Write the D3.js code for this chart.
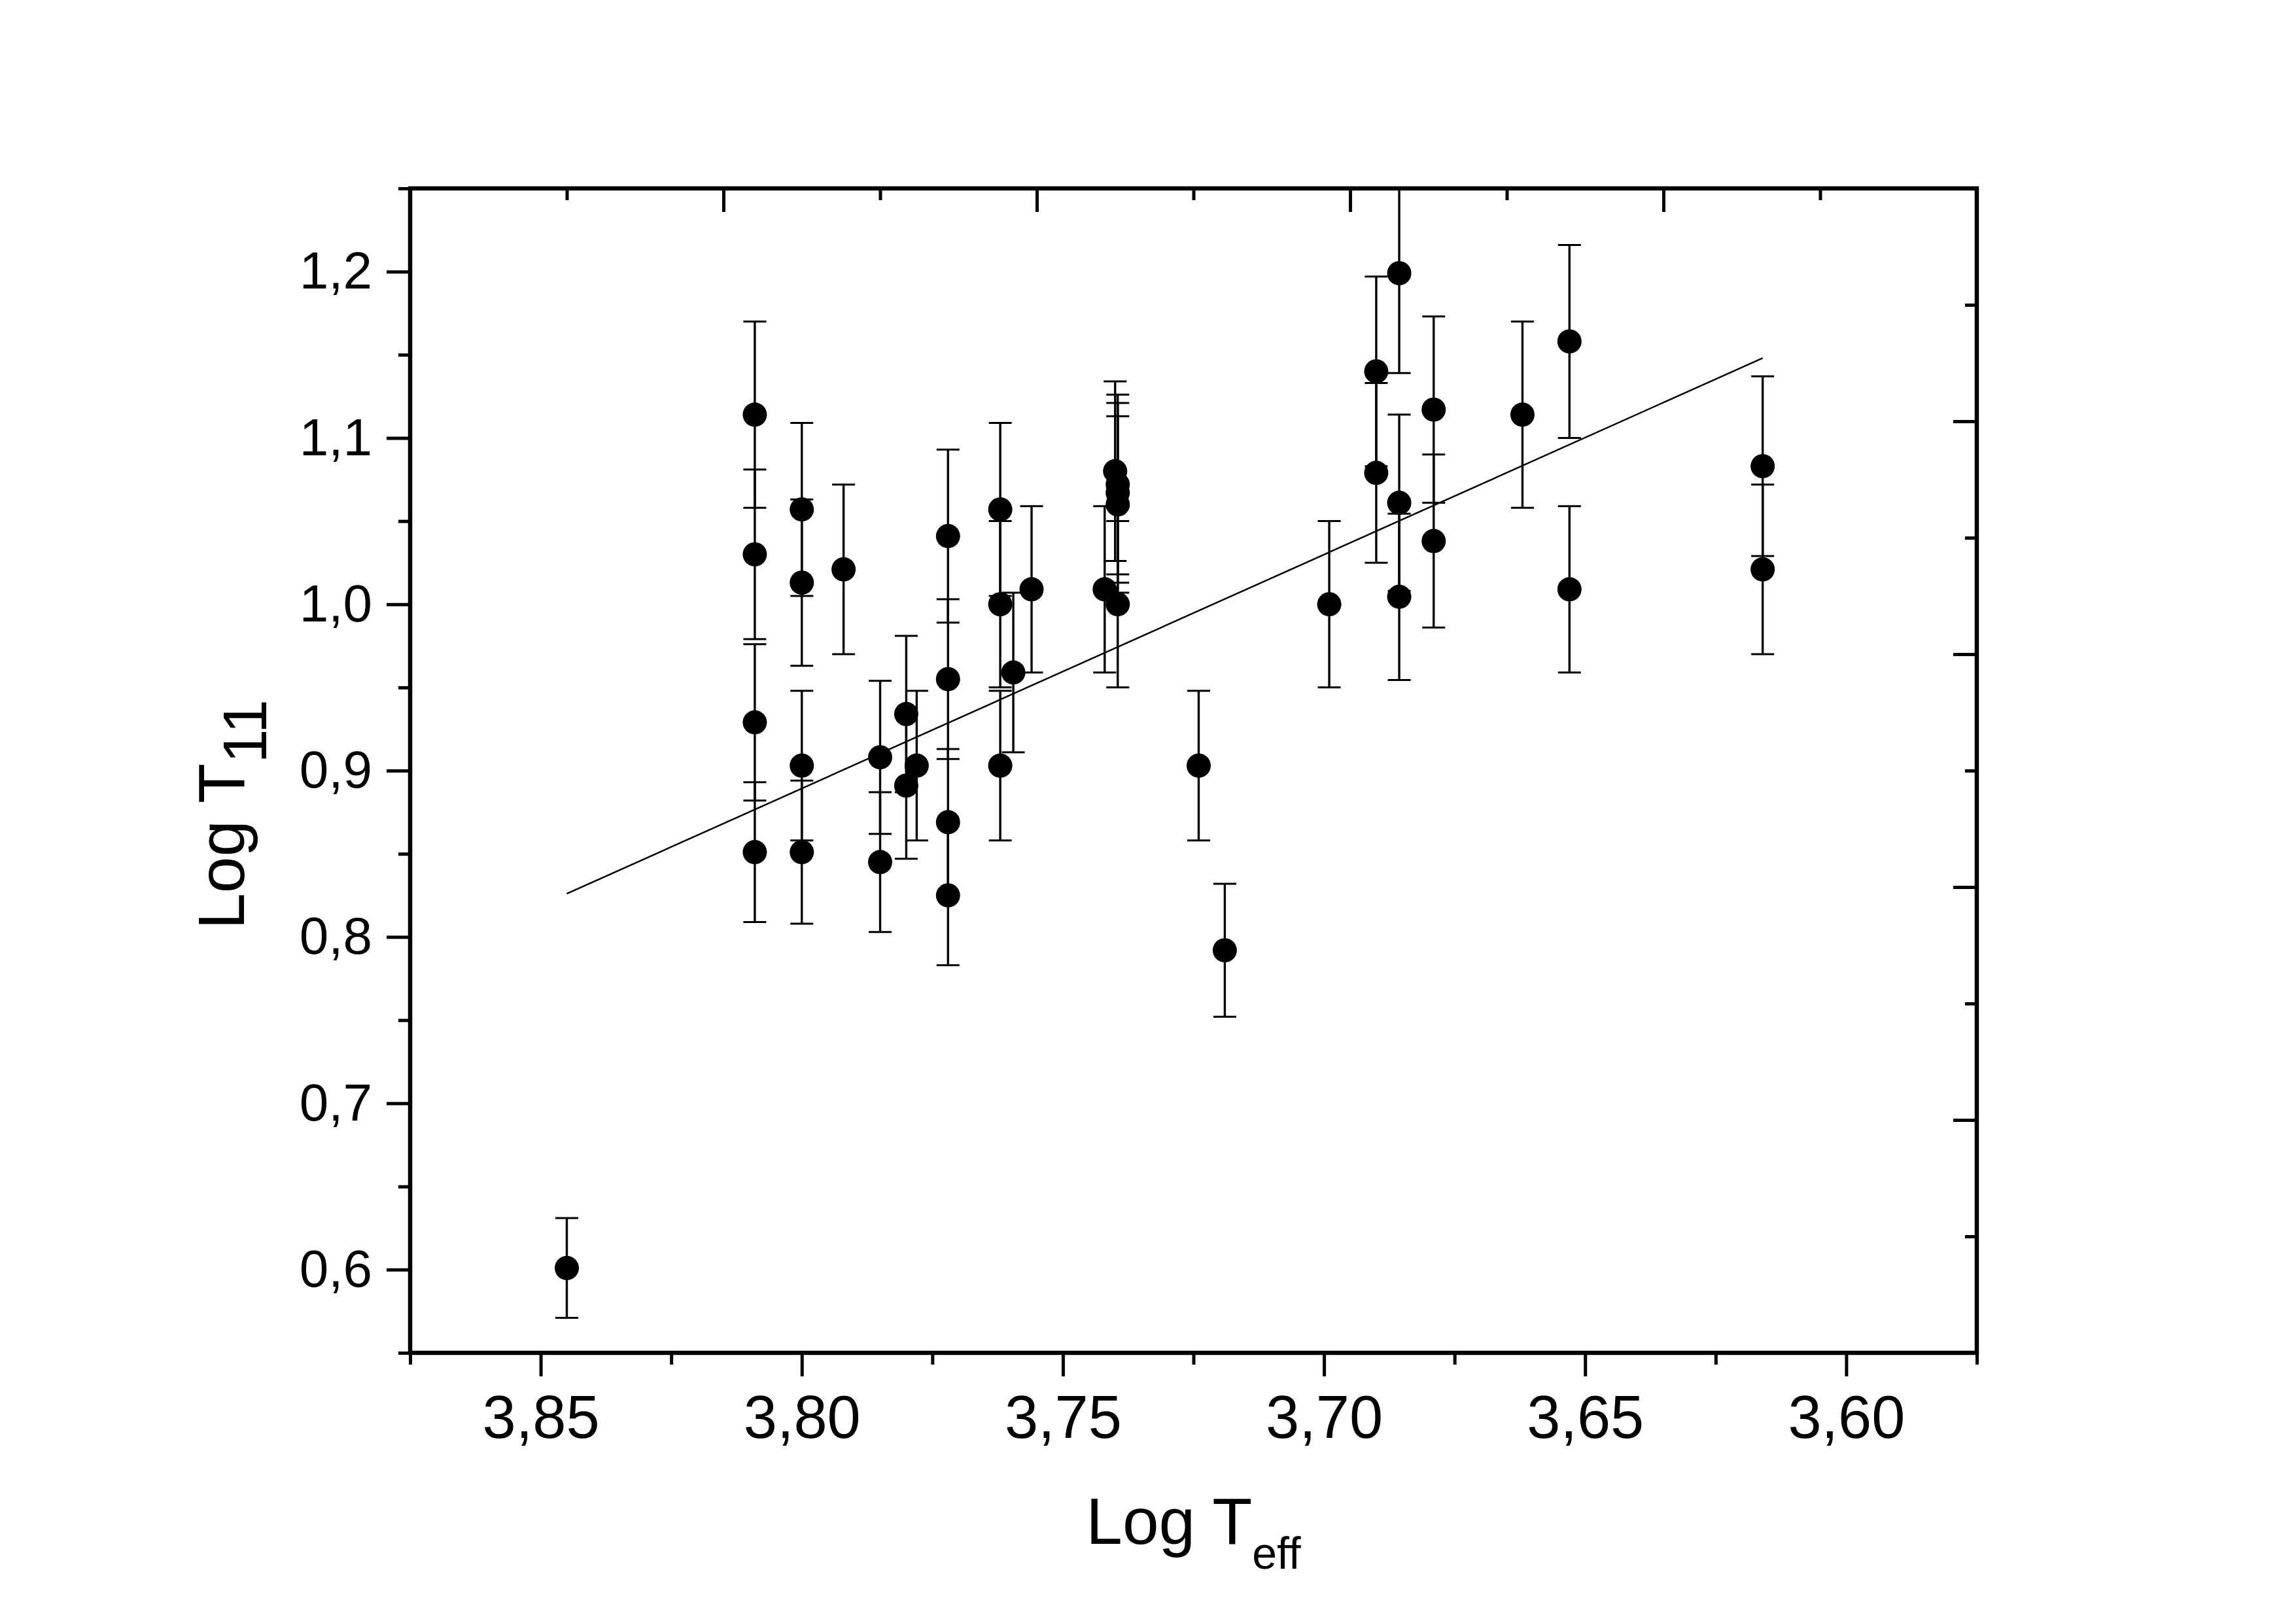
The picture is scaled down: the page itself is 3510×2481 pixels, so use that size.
<!DOCTYPE html>
<html><head><meta charset="utf-8">
<script src="https://cdn.jsdelivr.net/npm/d3@7"></script>
<style>html,body{margin:0;padding:0;background:#fff;} svg{display:block;}</style>
</head><body>
<script>
// ---- data ----
const logTeff = [3.845,
  3.809, 3.809, 3.809, 3.809,
  3.800, 3.800, 3.800, 3.800,
  3.792,
  3.785, 3.785,
  3.780, 3.780,
  3.778,
  3.772, 3.772, 3.772, 3.772,
  3.762, 3.762, 3.762,
  3.7595,
  3.756,
  3.742,
  3.740,
  3.7395, 3.7395, 3.7395, 3.7395,
  3.724,
  3.719,
  3.699,
  3.690, 3.690,
  3.6856, 3.6856, 3.6856,
  3.679, 3.679,
  3.662,
  3.653, 3.653,
  3.616, 3.616];
const logT11 = [0.601,
  1.114, 1.030, 0.929, 0.851,
  1.057, 1.013, 0.903, 0.851,
  1.021,
  0.908, 0.845,
  0.934, 0.891,
  0.903,
  1.041, 0.955, 0.869, 0.825,
  1.057, 1.000, 0.903,
  0.959,
  1.009,
  1.009,
  1.080,
  1.072, 1.067, 1.060, 1.000,
  0.903,
  0.792,
  1.000,
  1.140, 1.079,
  1.199, 1.061, 1.0045,
  1.117, 1.038,
  1.114,
  1.158, 1.009,
  1.083, 1.021];
const errT11 = [0.030,
  0.056, 0.051, 0.047, 0.042,
  0.052, 0.050, 0.045, 0.043,
  0.051,
  0.046, 0.042,
  0.047, 0.044,
  0.045,
  0.052, 0.048, 0.044, 0.042,
  0.052, 0.050, 0.045,
  0.048,
  0.050,
  0.050,
  0.054,
  0.054, 0.054, 0.053, 0.050,
  0.045,
  0.040,
  0.050,
  0.057, 0.054,
  0.060, 0.053, 0.050,
  0.056, 0.052,
  0.056,
  0.058, 0.050,
  0.054, 0.051];
const fitTeff = [3.845, 3.616];
const fitT11 = [0.826, 1.148];

const xMajorTicks = [3.85, 3.80, 3.75, 3.70, 3.65, 3.60];
const xMinorTicks = [3.875, 3.825, 3.775, 3.725, 3.675, 3.625, 3.575];
const yMajorTicks = [0.6, 0.7, 0.8, 0.9, 1.0, 1.1, 1.2];
const yMinorTicks = [0.55, 0.65, 0.75, 0.85, 0.95, 1.05, 1.15, 1.25];
const frameMajorTicks = [2, 4, 6, 8];
const frameMinorTicks = [1, 3, 5, 7, 9];

const xTitleMain = "Log T", xTitleSub = "eff";
const yTitleMain = "Log T", yTitleSub = "11";

// ---- layout ----
const W = 3510, H = 2481;
const L = 627, R = 3022, T = 288, B = 2068;
const font = "'Liberation Sans', Arial, Helvetica, sans-serif";

const svg = d3.select("body").append("svg")
  .attr("width", W).attr("height", H)
  .style("background", "#fff");

const x = d3.scaleLinear().domain([3.875, 3.575]).range([L, R]);
const y = d3.scaleLinear().domain([0.55, 1.25]).range([B, T]);
const xf = d3.scaleLinear().domain([0, 10]).range([L, R]);
const yf = d3.scaleLinear().domain([0, 10]).range([B, T]);

const fmtX = d => d.toFixed(2).replace(".", ",");
const fmtY = d => d.toFixed(1).replace(".", ",");

svg.append("defs").append("clipPath").attr("id", "plotclip")
  .append("rect").attr("x", L).attr("y", T).attr("width", R - L).attr("height", B - T);

function styleAxis(g, sw) {
  g.select(".domain").remove();
  g.selectAll(".tick line").attr("stroke", "#000").attr("stroke-width", sw);
}

// bottom axis (outward)
const gxMaj = svg.append("g").attr("transform", `translate(0,${B})`)
  .call(d3.axisBottom(x).tickValues(xMajorTicks).tickFormat(fmtX).tickSize(36).tickPadding(29));
styleAxis(gxMaj, 5);
gxMaj.selectAll("text").attr("font-family", font).attr("font-size", 92).attr("fill", "#000");
const gxMin = svg.append("g").attr("transform", `translate(0,${B})`)
  .call(d3.axisBottom(x).tickValues(xMinorTicks).tickFormat("").tickSize(18));
styleAxis(gxMin, 5);

// left axis (outward)
const gyMaj = svg.append("g").attr("transform", `translate(${L},0)`)
  .call(d3.axisLeft(y).tickValues(yMajorTicks).tickFormat(fmtY).tickSize(36).tickPadding(22));
styleAxis(gyMaj, 5);
gyMaj.selectAll("text").attr("font-family", font).attr("font-size", 80).attr("fill", "#000");
const gyMin = svg.append("g").attr("transform", `translate(${L},0)`)
  .call(d3.axisLeft(y).tickValues(yMinorTicks).tickFormat("").tickSize(18));
styleAxis(gyMin, 5);

// top axis (inward, independent scale)
const gtMaj = svg.append("g").attr("transform", `translate(0,${T})`)
  .call(d3.axisTop(xf).tickValues(frameMajorTicks).tickFormat("").tickSize(-36));
styleAxis(gtMaj, 5);
const gtMin = svg.append("g").attr("transform", `translate(0,${T})`)
  .call(d3.axisTop(xf).tickValues(frameMinorTicks).tickFormat("").tickSize(-18));
styleAxis(gtMin, 5);

// right axis (inward, independent scale)
const grMaj = svg.append("g").attr("transform", `translate(${R},0)`)
  .call(d3.axisRight(yf).tickValues(frameMajorTicks).tickFormat("").tickSize(-36));
styleAxis(grMaj, 5);
const grMin = svg.append("g").attr("transform", `translate(${R},0)`)
  .call(d3.axisRight(yf).tickValues(frameMinorTicks).tickFormat("").tickSize(-18));
styleAxis(grMin, 5);

// data
const data = logTeff.map((t, i) => ({ x: t, y: logT11[i], e: errT11[i] }));
const plot = svg.append("g").attr("clip-path", "url(#plotclip)");

// fit line
plot.append("path")
  .datum(fitTeff.map((t, i) => [t, fitT11[i]]))
  .attr("d", d3.line().x(d => x(d[0])).y(d => y(d[1])))
  .attr("fill", "none").attr("stroke", "#000").attr("stroke-width", 2.5);

// error bars
const eb = plot.append("g").attr("stroke", "#000");
eb.selectAll("line.bar").data(data).join("line").attr("class", "bar")
  .attr("x1", d => x(d.x)).attr("x2", d => x(d.x))
  .attr("y1", d => y(d.y - d.e)).attr("y2", d => y(d.y + d.e))
  .attr("stroke-width", 3.4);
eb.selectAll("line.capt").data(data).join("line").attr("class", "capt")
  .attr("x1", d => x(d.x) - 17.5).attr("x2", d => x(d.x) + 17.5)
  .attr("y1", d => y(d.y + d.e)).attr("y2", d => y(d.y + d.e))
  .attr("stroke-width", 3);
eb.selectAll("line.capb").data(data).join("line").attr("class", "capb")
  .attr("x1", d => x(d.x) - 17.5).attr("x2", d => x(d.x) + 17.5)
  .attr("y1", d => y(d.y - d.e)).attr("y2", d => y(d.y - d.e))
  .attr("stroke-width", 3);

// points
plot.append("g").selectAll("circle").data(data).join("circle")
  .attr("cx", d => x(d.x)).attr("cy", d => y(d.y)).attr("r", 18.5)
  .attr("fill", "#000");

// frame
svg.append("rect").attr("x", L).attr("y", T).attr("width", R - L).attr("height", B - T)
  .attr("fill", "none").attr("stroke", "#000").attr("stroke-width", 6.5)
  .attr("stroke-linecap", "square");

// x title
const xt = svg.append("text").attr("x", (L + R) / 2).attr("y", 2360)
  .attr("text-anchor", "middle").attr("font-family", font).attr("fill", "#000");
xt.append("tspan").attr("font-size", 100).text(xTitleMain);
xt.append("tspan").attr("font-size", 68).attr("dy", 38).text(xTitleSub);

// y title
const yt = svg.append("text").attr("transform", "translate(373,1245) rotate(-90)")
  .attr("text-anchor", "middle").attr("font-family", font).attr("fill", "#000");
yt.append("tspan").attr("font-size", 100).text(yTitleMain);
yt.append("tspan").attr("font-size", 94).attr("dy", 34).text(yTitleSub);
</script>
</body></html>
